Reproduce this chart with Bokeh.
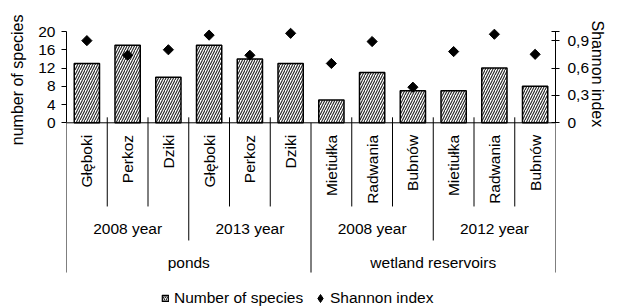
import math
from bokeh.plotting import figure
from bokeh.models import (Range1d, LinearAxis, FixedTicker, ColumnDataSource,
                          Legend, LegendItem, Title)
from bokeh.core.properties import value
from bokeh.embed import file_html
from bokeh.resources import INLINE

# ---- data ----
sites = ["Głęboki", "Perkoz", "Dziki", "Głęboki", "Perkoz", "Dziki",
         "Mietiułka", "Radwania", "Bubnów", "Mietiułka", "Radwania", "Bubnów"]
years = ["2008 year", "2013 year", "2008 year", "2012 year"]
groups = ["ponds", "wetland reservoirs"]
species = [13, 17, 10, 17, 14, 13, 5, 11, 7, 7, 12, 8]
shannon = [0.90, 0.74, 0.80, 0.96, 0.74, 0.98, 0.65, 0.89, 0.39, 0.78, 0.97, 0.75]
left_ticks = [0, 4, 8, 12, 16, 20]
right_ticks = [0, 0.3, 0.6, 0.9, 1.0]
right_labels = ["0", "0,3", "0,6", "0,9", ""]
left_title = "number of species"
right_title = "Shannon index"

FONT = "Liberation Sans"
FS = "15.5px"
FS_T = "16px"

n = len(sites)
per_year = n // len(years)
per_group = n // len(groups)
x = [i + 0.5 for i in range(n)]

Y0, Y1 = -40.24, 22.41
p = figure(width=617, height=306, output_backend="svg", toolbar_location=None,
           x_range=Range1d(0, n), y_range=Range1d(Y0, Y1),
           x_axis_location=None, y_axis_location=None,
           min_border_left=65, min_border_right=58, min_border_top=20,
           min_border_bottom=0)
p.outline_line_color = None
p.xgrid.visible = False
p.ygrid.visible = False
p.extra_y_ranges = {"sh": Range1d(Y0 / 20.0, Y1 / 20.0)}

la = LinearAxis(bounds=(0, 20), ticker=FixedTicker(ticks=left_ticks))
la.major_tick_in = 0
la.major_tick_out = 5
la.major_label_standoff = 6
p.add_layout(la, "left")

# left title: placed outside the axis, aligned with the top of the value axis
p.add_layout(Title(text=left_title, align="right", vertical_align="top",
                   offset=-6, standoff=16, text_font=FONT, text_font_size=FS_T,
                   text_font_style="normal", text_color="black"), "left")

ra = LinearAxis(y_range_name="sh", bounds=(0, 1.0),
                ticker=FixedTicker(ticks=right_ticks), axis_label=right_title)
ra.major_label_overrides = {t: l for t, l in zip(right_ticks, right_labels)}
ra.major_tick_in = 4
ra.major_tick_out = 4
ra.major_label_standoff = 8
ra.axis_label_standoff = 5
ra.axis_label_orientation = -math.pi / 2
ra.axis_label_text_font = FONT
ra.axis_label_text_font_size = FS_T
ra.axis_label_text_font_style = "normal"
ra.axis_label_text_color = "black"
try:
    ra.axis_label_align = "end"
except Exception:
    pass
p.add_layout(ra, "right")

for ax in (la, ra):
    ax.axis_line_color = "black"
    ax.major_tick_line_color = "black"
    ax.minor_tick_line_color = None
    ax.major_label_text_font = FONT
    ax.major_label_text_font_size = FS
    ax.major_label_text_color = "black"

src = ColumnDataSource(dict(x=x, species=species, shannon=shannon, sites=sites))
bars = p.vbar(x="x", top="species", width=0.62, bottom=0, source=src,
              fill_color="white", line_color="black", line_width=1.5,
              hatch_pattern="/", hatch_scale=5, hatch_weight=1.1,
              hatch_color="#222222")
pts = p.scatter(x="x", y="shannon", source=src, y_range_name="sh",
                marker="square", angle=math.pi / 4, size=7.2,
                fill_color="black", line_color="black")

# category axis line
p.segment(x0=[0], y0=[0], x1=[n], y1=[0], line_color="black", line_width=1)

# separators
lvl1 = [i for i in range(1, n) if i % per_year != 0]
lvl2 = [i for i in range(1, n) if i % per_year == 0 and i % per_group != 0]
lvl3 = [i for i in range(0, n + 1) if i % per_group == 0]
TOP = 1.2
p.segment(x0=lvl1, y0=[TOP] * len(lvl1), x1=lvl1, y1=[-18.33] * len(lvl1),
          line_color="black", line_width=1)
p.segment(x0=lvl2, y0=[TOP] * len(lvl2), x1=lvl2, y1=[-25.78] * len(lvl2),
          line_color="black", line_width=1)
p.segment(x0=lvl3, y0=[0] * len(lvl3), x1=lvl3, y1=[-32.8] * len(lvl3),
          line_color="black", line_width=1)

# category labels
p.text(x=x, y=[-2.65] * n, text=sites, angle=math.pi / 2,
       text_align="right", text_baseline="middle",
       text_font=value(FONT), text_font_size=FS, text_color="black")
yx = [i * per_year + per_year / 2 for i in range(len(years))]
p.text(x=yx, y=[-23.15] * len(years), text=years,
       text_align="center", text_baseline="middle",
       text_font=value(FONT), text_font_size=FS, text_color="black")
gx = [i * per_group + per_group / 2 for i in range(len(groups))]
p.text(x=gx, y=[-30.6] * len(groups), text=groups,
       text_align="center", text_baseline="middle",
       text_font=value(FONT), text_font_size=FS, text_color="black")

# legend proxies drawn outside the visible range (only feed the legend)
lb = p.vbar(x=[-5], top=[0], width=0.62, bottom=0,
            fill_color="white", line_color="black", line_width=1.2,
            hatch_pattern="/", hatch_scale=4, hatch_weight=1.1,
            hatch_color="#222222")
lp = p.scatter(x=[-5], y=[0], marker="diamond", size=8,
               fill_color="black", line_color="black")

common = dict(orientation="horizontal", border_line_color=None,
              background_fill_alpha=0, padding=0, margin=0, spacing=0,
              label_text_font=FONT, label_text_font_size=FS,
              label_text_color="black")
leg1 = Legend(items=[LegendItem(label="Number of species", renderers=[lb])],
              location=(95, -1), label_standoff=5,
              glyph_width=8, glyph_height=8, **common)
leg2 = Legend(items=[LegendItem(label="Shannon index", renderers=[lp])],
              location=(244, -2), label_standoff=0,
              glyph_width=20, glyph_height=20, **common)
p.add_layout(leg1, "center")
p.add_layout(leg2, "center")

open("out.html", "w").write(file_html(p, INLINE))
